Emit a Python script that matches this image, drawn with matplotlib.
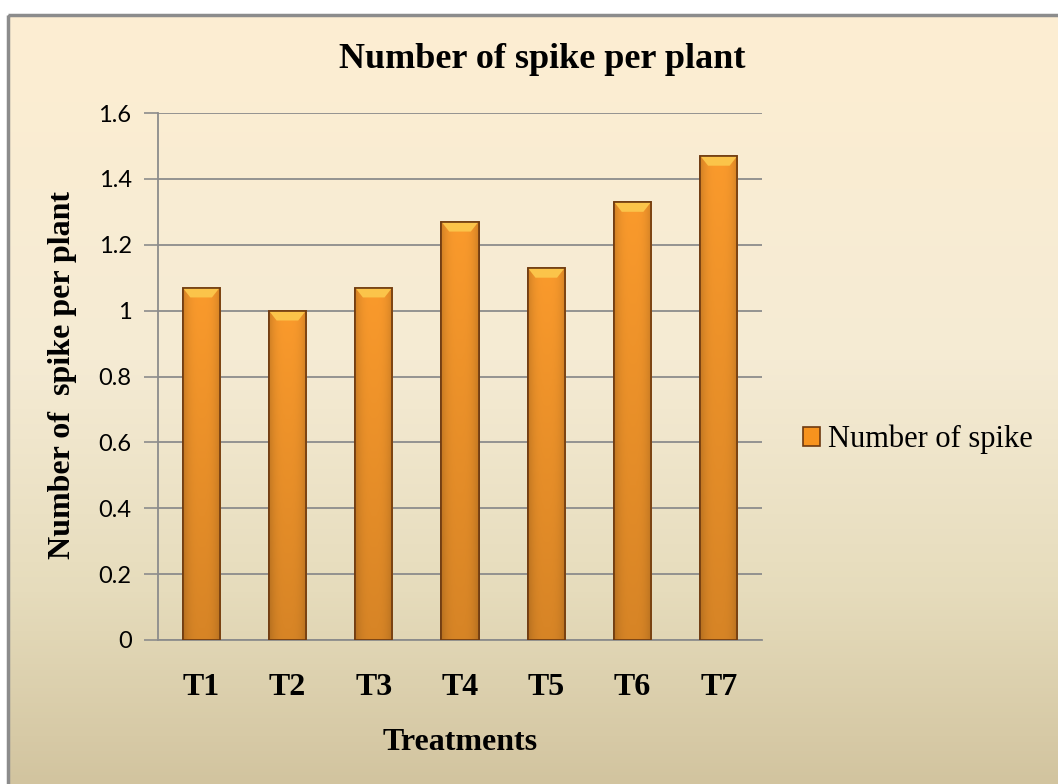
import numpy as np
import matplotlib.pyplot as plt
from matplotlib.colors import LinearSegmentedColormap, to_rgb
from matplotlib.patches import Rectangle, Polygon

treatments = ['T1', 'T2', 'T3', 'T4', 'T5', 'T6', 'T7']
spikes = [1.07, 1.0, 1.07, 1.27, 1.13, 1.33, 1.47]
yticks = [0, 0.2, 0.4, 0.6, 0.8, 1.0, 1.2, 1.4, 1.6]
ytick_labels = ['0', '0.2', '0.4', '0.6', '0.8', '1', '1.2', '1.4', '1.6']

W, H = 1058, 784
fig = plt.figure(figsize=(W / 100, H / 100), dpi=100)
fig.patch.set_facecolor('white')

# background chart area with vertical gradient (pixel coordinates)
bg = fig.add_axes([0, 0, 1, 1], zorder=-10)
bg.axis('off')
grad = np.linspace(0, 1, 256).reshape(-1, 1)
bg_cmap = LinearSegmentedColormap.from_list(
    'bg', [(0, '#fdeed2'), (0.45, '#f5ebd4'), (0.75, '#e6dcbc'), (1, '#d2c49f')])
bg.imshow(grad, cmap=bg_cmap, aspect='auto', extent=[8, W, H, 15], origin='upper')
bg.add_patch(Rectangle((8, 15), W, H, fill=False, edgecolor='#8c8c8c', lw=2.5))
bg.set_xlim(0, W)
bg.set_ylim(H, 0)

serif = 'Liberation Serif'
grid_c = '#8c8c8c'

ax = fig.add_axes([158 / W, 1 - 640 / H, 604 / W, 527 / H])
ax.set_facecolor('none')
x = np.arange(len(treatments))
bw = 0.43
bars = ax.bar(x, spikes, width=bw, color='#f7931e', edgecolor='#6e3a10',
              linewidth=1.2, zorder=3, label='Number of spike')

ax.set_xlim(-0.5, len(treatments) - 0.5)
ax.set_ylim(0, 1.6)

# shading on each bar: darker edges, darker bottom
base = np.array(to_rgb('#fa9a2c'))
hx = np.linspace(-1, 1, 40)
vy = np.linspace(0, 1, 60).reshape(-1, 1)
hfac = 1 - 0.16 * np.abs(hx) ** 3
vfac = 0.86 + 0.14 * vy
img = np.clip(base[None, None, :] * (hfac[None, :] * vfac)[:, :, None], 0, 1)
for xi, v, b in zip(x, spikes, bars):
    im = ax.imshow(img, extent=[xi - bw / 2, xi + bw / 2, 0, v], origin='lower',
                   aspect='auto', zorder=3.5)
    im.set_clip_path(b)
    # top bevel
    dx, dy = 0.09, 0.03
    ax.add_patch(Polygon([[xi - bw / 2, v], [xi + bw / 2, v],
                          [xi + bw / 2 - dx, v - dy], [xi - bw / 2 + dx, v - dy]],
                         closed=True, facecolor='#fbc44a', edgecolor='none', zorder=3.6))
    ax.add_patch(Rectangle((xi - bw / 2, 0), bw, v, fill=False,
                           edgecolor='#6e3a10', lw=1.2, zorder=3.7))

ax.set_xlim(-0.5, len(treatments) - 0.5)
ax.set_ylim(0, 1.6)
ax.set_yticks(yticks)
ax.set_yticklabels(ytick_labels, fontfamily='Lato', fontsize=17)
ax.set_xticks(x)
ax.set_xticklabels(treatments, fontfamily=serif, fontweight='bold', fontsize=23)
ax.tick_params(axis='x', length=0, pad=24)
ax.tick_params(axis='y', length=10, color=grid_c, width=1.2, pad=9)
ax.grid(axis='y', color=grid_c, lw=1.3, zorder=1)
ax.set_axisbelow(True)
for s in ['top', 'right']:
    ax.spines[s].set_visible(False)
for s in ['left', 'bottom']:
    ax.spines[s].set_color(grid_c)
    ax.spines[s].set_linewidth(1.3)

fig.text(542 / W, 1 - 60 / H, 'Number of spike per plant', ha='center', va='center',
         fontfamily=serif, fontweight='bold', fontsize=26)
fig.text(63 / W, 1 - 375 / H, 'Number of  spike per plant', ha='center', va='center',
         rotation=90, fontfamily=serif, fontweight='bold', fontsize=23)
fig.text(460 / W, 1 - 743 / H, 'Treatments', ha='center', va='center',
         fontfamily=serif, fontweight='bold', fontsize=23)

ax.legend(loc='center left', bbox_to_anchor=(1.068, 0.38), frameon=False,
          prop={'family': serif, 'size': 22}, handlelength=0.55, handleheight=0.6,
          handletextpad=0.25, borderpad=0, borderaxespad=0)

fig.savefig('out.png', dpi=100)
